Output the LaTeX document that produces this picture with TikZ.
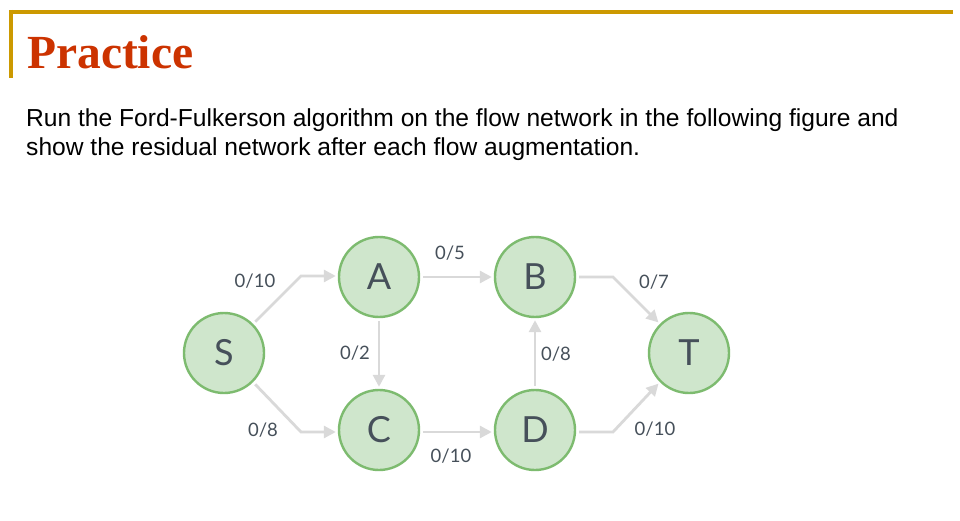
\documentclass[tikz,border=0pt]{standalone}
\usepackage{fontspec}
\setmainfont{Liberation Sans}
\newfontfamily\titlefont{Liberation Serif}
\newfontfamily\graphfont{Lato}
\usetikzlibrary{arrows.meta}
\definecolor{gold}{RGB}{204,153,0}
\definecolor{titlered}{RGB}{204,51,0}
\definecolor{nodefill}{RGB}{207,230,204}
\definecolor{nodedraw}{RGB}{125,187,111}
\definecolor{edgegray}{RGB}{217,217,217}
\definecolor{labelgray}{RGB}{70,80,90}
\begin{document}
\begin{tikzpicture}[x=1pt,y=-1pt,
  vertex/.style={circle,fill=nodefill,draw=nodedraw,line width=2.4pt,minimum size=80pt,inner sep=0pt,
     text=labelgray,font=\graphfont\fontsize{36}{36}\selectfont},
  flow/.style={draw=edgegray,line width=2.8pt,-{Triangle[length=12pt,width=12pt]},shorten >=2pt,shorten <=3pt},
  caplabel/.style={text=labelgray,font=\graphfont\fontsize{18.5}{18.5}\selectfont,inner sep=0pt}]
\useasboundingbox (0,0) rectangle (960,521);
\fill[white] (0,0) rectangle (960,521);
% header rules
\coordinate (h1) at (9,12);
\coordinate (h2) at (953,12);
\coordinate (v2) at (10.8,78);
\draw[gold,line width=4pt] (h1) -- (h2);
\draw[gold,line width=3.5pt] (10.8,10) -- (v2);
\node[anchor=base west,inner sep=0pt,text=titlered,font=\titlefont\bfseries\fontsize{47.5}{50}\selectfont] (title) at (27,69) {Practice};
\node[anchor=base west,inner sep=0pt,font=\fontsize{24.6}{28}\selectfont] (l1) at (26,127) {Run the Ford-Fulkerson algorithm on the flow network in the following figure and};
\node[anchor=base west,inner sep=0pt,font=\fontsize{24.6}{28}\selectfont] (l2) at (26,156) {show the residual network after each flow augmentation.};
% nodes
\node[vertex] (S) at (224,353) {S};
\node[vertex] (A) at (379,277) {A};
\node[vertex] (B) at (535,277) {B};
\node[vertex] (C) at (379,430) {C};
\node[vertex] (D) at (535,430) {D};
\node[vertex] (T) at (689,353) {T};
\coordinate (sa) at (301,276);
\coordinate (sc) at (301,432);
\coordinate (bt) at (613,277);
\coordinate (dt) at (613,432);
% edges
\draw[flow] (S.45) -- (sa) -- (A.west |- sa);
\draw[flow] (S.-45) -- (sc) -- (C.west |- sc);
\draw[flow] (A.east) -- (B.west);
\draw[flow] (A.south) -- (C.north);
\draw[flow] (C.east |- sc) -- (D.west |- sc);
\draw[flow] (D.north) -- (B.south);
\draw[flow] (B.east) -- (bt) -- (T.135);
\draw[flow] (D.east |- dt) -- (dt) -- (T.-135);
% labels
\node[caplabel] (c1) at (255,281) {0/10};
\node[caplabel] (c2) at (450,253) {0/5};
\node[caplabel] (c3) at (355,353) {0/2};
\node[caplabel] (c4) at (263,430) {0/8};
\node[caplabel] (c5) at (451,456) {0/10};
\node[caplabel] (c6) at (556,354) {0/8};
\node[caplabel] (c7) at (654,282) {0/7};
\node[caplabel] (c8) at (655,429) {0/10};
\end{tikzpicture}
\end{document}
